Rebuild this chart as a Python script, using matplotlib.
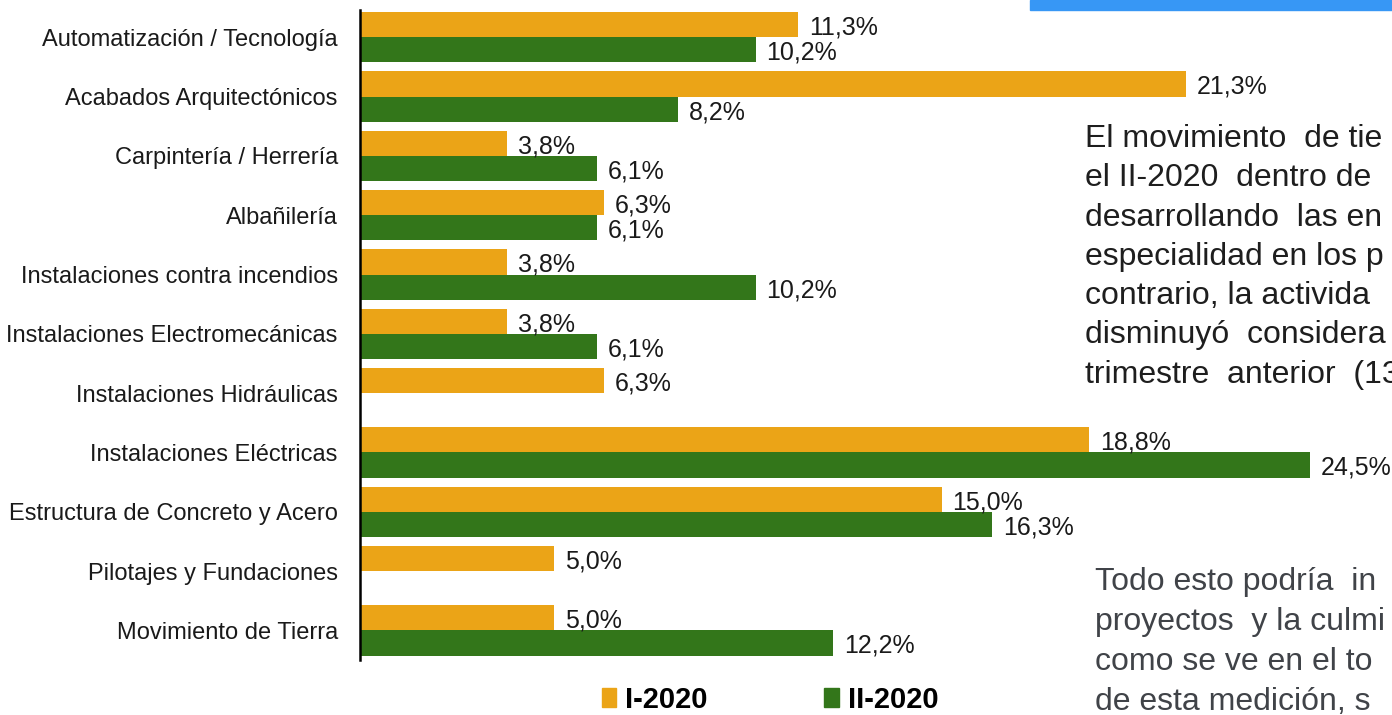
import matplotlib.pyplot as plt
from matplotlib.patches import Patch, Rectangle

plt.rcParams['font.family'] = ['Liberation Sans', 'DejaVu Sans']

# Data (top to bottom)
categories = [
    "Automatización / Tecnología",
    "Acabados Arquitectónicos",
    "Carpintería / Herrería",
    "Albañilería",
    "Instalaciones contra incendios",
    "Instalaciones Electromecánicas",
    "Instalaciones Hidráulicas",
    "Instalaciones Eléctricas",
    "Estructura de Concreto y Acero",
    "Pilotajes y Fundaciones",
    "Movimiento de Tierra",
]
i_2020 = [11.3, 21.3, 3.8, 6.3, 3.8, 3.8, 6.3, 18.8, 15.0, 5.0, 5.0]
ii_2020 = [10.2, 8.2, 6.1, 6.1, 10.2, 6.1, 0.0, 24.5, 16.3, 0.0, 12.2]
series_names = ["I-2020", "II-2020"]

# slide text beside the chart (cut off by the slide edge)
para1 = [
    "El movimiento  de tie",
    "el II-2020  dentro de",
    "desarrollando  las en",
    "especialidad en los p",
    "contrario, la activida",
    "disminuyó  considera",
    "trimestre  anterior  (13",
]
para2 = [
    "Todo esto podría  in",
    "proyectos  y la culmi",
    "como se ve en el to",
    "de esta medición, s",
]

orange = "#EBA417"
green = "#33761A"

W, H = 1392, 715
fig = plt.figure(figsize=(W / 100, H / 100), dpi=100)
ax = fig.add_axes([360 / W, 55 / H, 1032 / W, 650 / H])
ax.patch.set_alpha(0)

# blue header strip at top right
fig.patches.append(Rectangle((1030 / W, 705 / H), 362 / W, 10 / H,
                             transform=fig.transFigure, color="#3797F5", zorder=0))

h = 0.425
y = list(range(len(categories)))
y_top = [v - h / 2 for v in y]
y_bot = [v + h / 2 for v in y]
ax.barh(y_top, i_2020, height=h, color=orange, zorder=2)
ax.barh(y_bot, ii_2020, height=h, color=green, zorder=2)

def fmt(v):
    return f"{v:.1f}%".replace(".", ",")

for yy, v in zip(y_top, i_2020):
    if v > 0:
        ax.text(v + 0.28, yy + 0.05, fmt(v), va="center", ha="left", fontsize=18, color="#1a1a1a")
for yy, v in zip(y_bot, ii_2020):
    if v > 0:
        ax.text(v + 0.28, yy + 0.05, fmt(v), va="center", ha="left", fontsize=18, color="#1a1a1a")

ax.set_xlim(0, 1032 / 38.78)
ax.set_ylim(10.5, -0.46)
ax.set_yticks(y)
ax.set_yticklabels(categories, fontsize=17, color="#1a1a1a")
ax.tick_params(axis="y", length=0, pad=16)
ax.set_xticks([])
for s in ["top", "right", "bottom"]:
    ax.spines[s].set_visible(False)
ax.spines["left"].set_linewidth(1.8)
ax.spines["left"].set_color("black")

handles = [Patch(color=orange), Patch(color=green)]
fig.legend(handles, series_names, loc="center", bbox_to_anchor=(770 / W, 1 - 700 / H),
           ncol=2, frameon=False, handlelength=0.5, handleheight=0.65, handletextpad=0.3,
           columnspacing=4.0, borderpad=0, prop={"weight": "bold", "size": 21})

for k, line in enumerate(para1):
    fig.text(1085 / W, 1 - (147 + k * 39.3) / H, line, fontsize=23, color="#1e1e1e",
             va="baseline", ha="left")
for k, line in enumerate(para2):
    fig.text(1095 / W, 1 - (590 + k * 40) / H, line, fontsize=23, color="#404348",
             va="baseline", ha="left")

fig.savefig("out.png", dpi=100)
